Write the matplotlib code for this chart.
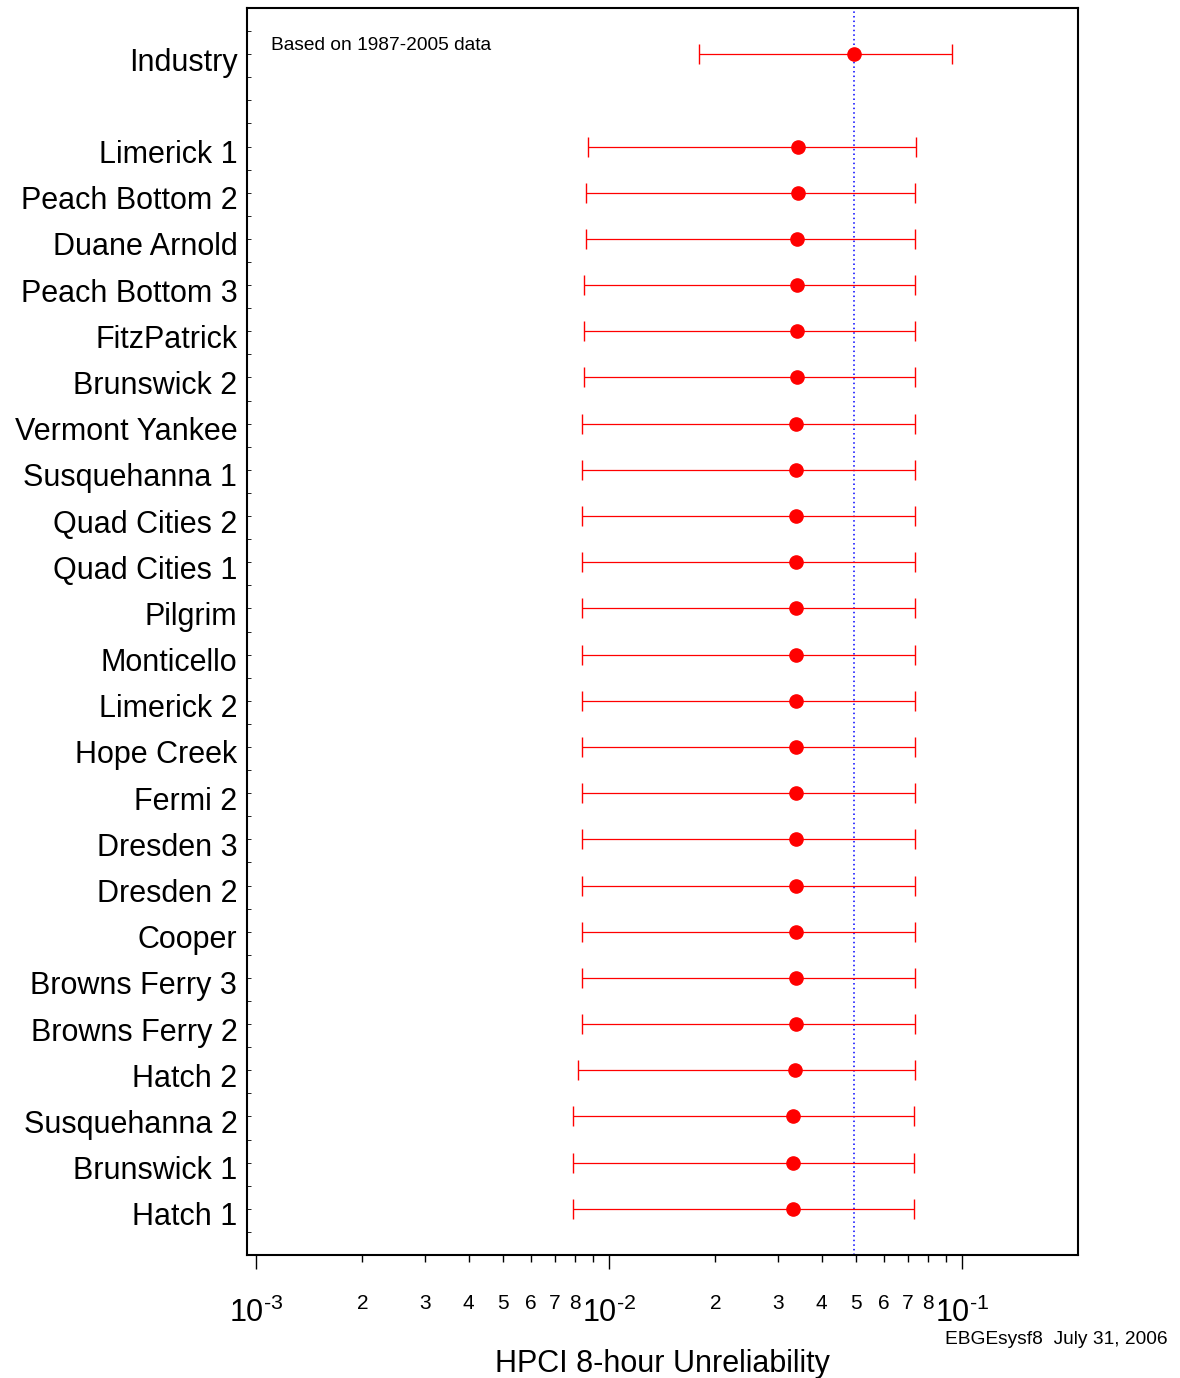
import matplotlib
matplotlib.use("Agg")
import matplotlib.pyplot as plt
import matplotlib.transforms as mtransforms
import numpy as np
from matplotlib.ticker import FixedLocator, FixedFormatter

plt.rcParams['font.family'] = ['Liberation Sans', 'DejaVu Sans']
plt.rcParams['mathtext.fontset'] = 'custom'
plt.rcParams['mathtext.rm'] = 'Liberation Sans'
plt.rcParams['mathtext.it'] = 'Liberation Sans'
plt.rcParams['axes.unicode_minus'] = False

plants = ["Industry", "Limerick 1", "Peach Bottom 2", "Duane Arnold", "Peach Bottom 3",
          "FitzPatrick", "Brunswick 2", "Vermont Yankee", "Susquehanna 1", "Quad Cities 2",
          "Quad Cities 1", "Pilgrim", "Monticello", "Limerick 2", "Hope Creek", "Fermi 2",
          "Dresden 3", "Dresden 2", "Cooper", "Browns Ferry 3", "Browns Ferry 2", "Hatch 2",
          "Susquehanna 2", "Brunswick 1", "Hatch 1"]
mean = [0.0494, 0.0343, 0.0342, 0.0341, 0.0340, 0.0340, 0.0340, 0.0338, 0.0338, 0.0338,
        0.0338, 0.0338, 0.0338, 0.0338, 0.0338, 0.0338, 0.0338, 0.0338, 0.0338, 0.0338,
        0.0338, 0.0336, 0.0332, 0.0332, 0.0332]
lower = [0.01793, 0.00869, 0.00861, 0.00861, 0.00851, 0.00851, 0.00851, 0.00835, 0.00835, 0.00835,
         0.00835, 0.00835, 0.00835, 0.00835, 0.00835, 0.00835, 0.00835, 0.00835, 0.00835, 0.00835,
         0.00835, 0.00816, 0.00792, 0.00792, 0.00792]
upper = [0.0935, 0.0738, 0.0736, 0.0736, 0.0735, 0.0735, 0.0735, 0.0735, 0.0735, 0.0735,
         0.0735, 0.0735, 0.0735, 0.0735, 0.0735, 0.0735, 0.0735, 0.0735, 0.0735, 0.0735,
         0.0735, 0.0735, 0.0730, 0.0730, 0.0730]
industry_mean = 0.0494
row_pos = [0] + list(range(2, 26))
major_ticks = [1e-3, 1e-2, 1e-1]
major_labels = ['10$^{\\text{-3}}$', '10$^{\\text{-2}}$', '10$^{\\text{-1}}$']

fig = plt.figure(figsize=(11.8, 13.78), dpi=100)
ax = fig.add_axes([247/1180, 123/1378, (1078-247)/1180, (1370-123)/1378])

mean_a = np.array(mean)
xerr = np.vstack([mean_a - np.array(lower), np.array(upper) - mean_a])
ax.errorbar(mean_a, row_pos, xerr=xerr, fmt='o', color='red', ecolor='red',
            elinewidth=0.9, capsize=7.5, capthick=1.0, markersize=9.5, zorder=3)
ax.axvline(industry_mean, color='blue', linestyle=(0, (1.0, 2.0)), linewidth=1.1, zorder=2)

ax.set_xscale('log')
ax.set_xlim(10**-3.026, 10**-0.672)
ax.set_ylim(26, -1)

ax.xaxis.set_major_locator(FixedLocator(major_ticks))
ax.xaxis.set_major_formatter(FixedFormatter(major_labels))
minor = [m * 10.0**e for e in (-3, -2) for m in range(2, 10)]
minor_lbl = [str(m) if m <= 8 else '' for e in (-3, -2) for m in range(2, 10)]
ax.xaxis.set_minor_locator(FixedLocator(minor))
ax.xaxis.set_minor_formatter(FixedFormatter(minor_lbl))
ax.tick_params(axis='x', which='major', direction='out', length=10, width=1.0,
               labelsize=22, pad=21)
ax.tick_params(axis='x', which='minor', direction='out', length=5, width=1.0,
               labelsize=15, pad=23)

ax.set_yticks(row_pos)
ax.set_yticklabels(plants)
ax.yaxis.set_minor_locator(FixedLocator(np.arange(-1, 26.01, 0.5)))
ax.tick_params(axis='y', which='major', direction='in', length=3, width=0.6,
               labelsize=22, pad=7)
ax.tick_params(axis='y', which='minor', direction='in', length=3, width=0.6)

shift = mtransforms.ScaledTranslation(0, -5/100, fig.dpi_scale_trans)
for lbl in ax.get_yticklabels():
    lbl.set_transform(lbl.get_transform() + shift)

for s in ax.spines.values():
    s.set_linewidth(1.5)

ax.set_xlabel('HPCI 8-hour Unreliability', fontsize=22, labelpad=14)
fig.text(271/1180, 1 - 45/1378, 'Based on 1987-2005 data', fontsize=13.8,
         ha='left', va='center')
fig.text(1168/1180, 1 - 1340/1378, 'EBGEsysf8  July 31, 2006', fontsize=13.8,
         ha='right', va='center')

fig.savefig('out.png', dpi=100)
